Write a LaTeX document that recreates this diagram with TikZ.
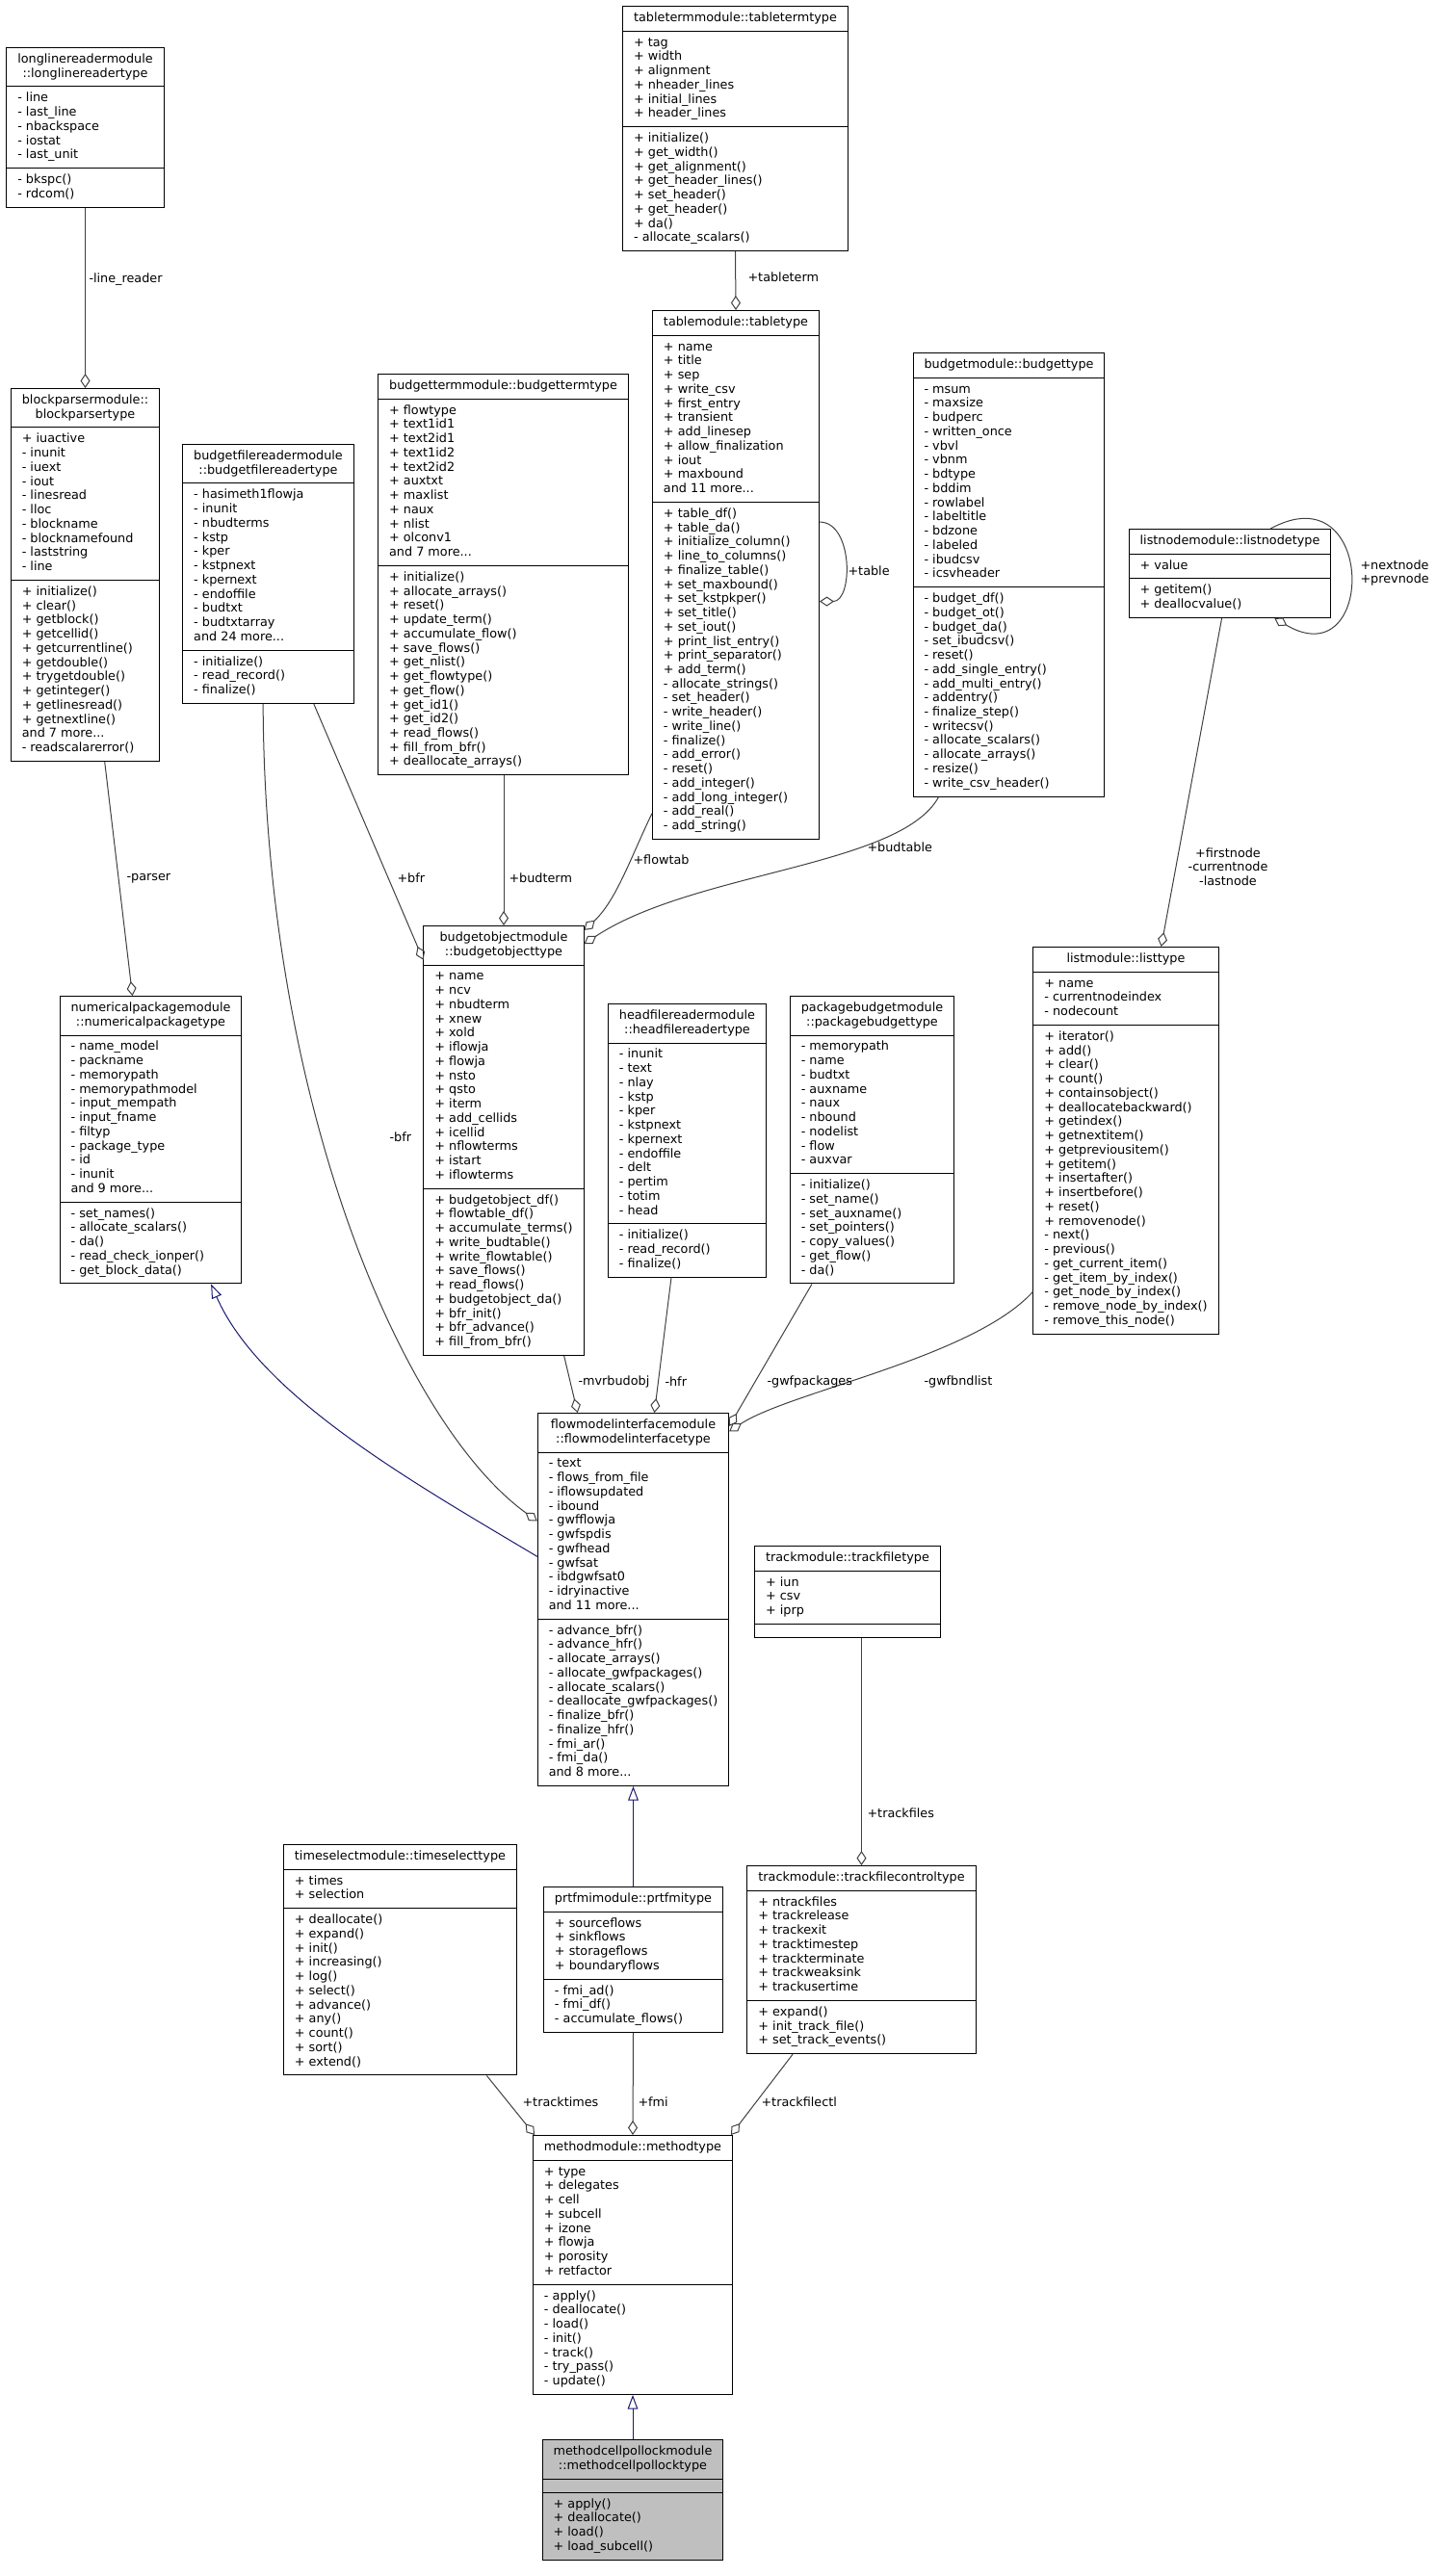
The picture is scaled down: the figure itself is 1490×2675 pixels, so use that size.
\documentclass[tikz,border=0pt]{standalone}
\usepackage{fontspec}
\setmainfont{DejaVu Sans}
\usetikzlibrary{shapes.multipart,arrows.meta,calc}
\definecolor{edgegray}{HTML}{404040}
\definecolor{inhblue}{HTML}{191970}
% class box: title / attributes / methods
\newcommand{\umlclass}[3]{%
  \begin{tabular}{@{}c@{}}#1\end{tabular}%
  \nodepart{two}\begin{tabular}{@{}l@{}}#2\end{tabular}%
  \nodepart{three}\begin{tabular}{@{}l@{}}#3\end{tabular}}

\begin{document}
\begin{tikzpicture}[x=0.75pt, y=-0.75pt, line width=0.75pt,
    every node/.style={font=\fontsize{9.6pt}{11.06pt}\selectfont},
    cls/.style={rectangle split, rectangle split parts=3,
      rectangle split part align={center,left,left},
      draw=black, fill=white, inner xsep=8.6pt, inner ysep=3.75pt, anchor=north},
    lbl/.style={inner sep=0pt, anchor=west},
    agg/.style={draw=edgegray, -{Diamond[open,length=11.25pt,width=7.5pt]}},
    inh/.style={draw=inhblue, -{Triangle[open,length=11pt,width=8pt]}}]
  \useasboundingbox (0,0) rectangle (1490,2675);

  % 1. 上部的类
  \node[cls] (ll) at (88.5,49) {\umlclass{longlinereadermodule\\::longlinereadertype}
    {- line\\- last\_line\\- nbackspace\\- iostat\\- last\_unit}
    {- bkspc()\\- rdcom()}};
  \node[cls] (bp) at (88.5,403) {\umlclass{blockparsermodule::\\blockparsertype}
    {+ iuactive\\- inunit\\- iuext\\- iout\\- linesread\\- lloc\\- blockname\\- blocknamefound\\- laststring\\- line}
    {+ initialize()\\+ clear()\\+ getblock()\\+ getcellid()\\+ getcurrentline()\\+ getdouble()\\+ trygetdouble()\\+ getinteger()\\+ getlinesread()\\+ getnextline()\\and 7 more...\\- readscalarerror()}};
  \node[cls] (bfr) at (278.5,461) {\umlclass{budgetfilereadermodule\\::budgetfilereadertype}
    {- hasimeth1flowja\\- inunit\\- nbudterms\\- kstp\\- kper\\- kstpnext\\- kpernext\\- endoffile\\- budtxt\\- budtxtarray\\and 24 more...}
    {- initialize()\\- read\_record()\\- finalize()}};
  \node[cls] (bt) at (522.5,388) {\umlclass{budgettermmodule::budgettermtype}
    {+ flowtype\\+ text1id1\\+ text2id1\\+ text1id2\\+ text2id2\\+ auxtxt\\+ maxlist\\+ naux\\+ nlist\\+ olconv1\\and 7 more...}
    {+ initialize()\\+ allocate\_arrays()\\+ reset()\\+ update\_term()\\+ accumulate\_flow()\\+ save\_flows()\\+ get\_nlist()\\+ get\_flowtype()\\+ get\_flow()\\+ get\_id1()\\+ get\_id2()\\+ read\_flows()\\+ fill\_from\_bfr()\\+ deallocate\_arrays()}};
  \node[cls] (tt) at (763.5,6) {\umlclass{tabletermmodule::tabletermtype}
    {+ tag\\+ width\\+ alignment\\+ nheader\_lines\\+ initial\_lines\\+ header\_lines}
    {+ initialize()\\+ get\_width()\\+ get\_alignment()\\+ get\_header\_lines()\\+ set\_header()\\+ get\_header()\\+ da()\\- allocate\_scalars()}};
  \node[cls] (tb) at (764,322) {\umlclass{tablemodule::tabletype}
    {+ name\\+ title\\+ sep\\+ write\_csv\\+ first\_entry\\+ transient\\+ add\_linesep\\+ allow\_finalization\\+ iout\\+ maxbound\\and 11 more...}
    {+ table\_df()\\+ table\_da()\\+ initialize\_column()\\+ line\_to\_columns()\\+ finalize\_table()\\+ set\_maxbound()\\+ set\_kstpkper()\\+ set\_title()\\+ set\_iout()\\+ print\_list\_entry()\\+ print\_separator()\\+ add\_term()\\- allocate\_strings()\\- set\_header()\\- write\_header()\\- write\_line()\\- finalize()\\- add\_error()\\- reset()\\- add\_integer()\\- add\_long\_integer()\\- add\_real()\\- add\_string()}};
  \node[cls] (bg) at (1047.5,366) {\umlclass{budgetmodule::budgettype}
    {- msum\\- maxsize\\- budperc\\- written\_once\\- vbvl\\- vbnm\\- bdtype\\- bddim\\- rowlabel\\- labeltitle\\- bdzone\\- labeled\\- ibudcsv\\- icsvheader}
    {- budget\_df()\\- budget\_ot()\\- budget\_da()\\- set\_ibudcsv()\\- reset()\\- add\_single\_entry()\\- add\_multi\_entry()\\- addentry()\\- finalize\_step()\\- writecsv()\\- allocate\_scalars()\\- allocate\_arrays()\\- resize()\\- write\_csv\_header()}};
  \node[cls] (ln) at (1277,549) {\umlclass{listnodemodule::listnodetype}
    {+ value}
    {+ getitem()\\+ deallocvalue()}};

  % 2. 中部的类
  \node[cls] (ls) at (1169,983) {\umlclass{listmodule::listtype}
    {+ name\\- currentnodeindex\\- nodecount}
    {+ iterator()\\+ add()\\+ clear()\\+ count()\\+ containsobject()\\+ deallocatebackward()\\+ getindex()\\+ getnextitem()\\+ getpreviousitem()\\+ getitem()\\+ insertafter()\\+ insertbefore()\\+ reset()\\+ removenode()\\- next()\\- previous()\\- get\_current\_item()\\- get\_item\_by\_index()\\- get\_node\_by\_index()\\- remove\_node\_by\_index()\\- remove\_this\_node()}};
  \node[cls] (np) at (156.5,1034) {\umlclass{numericalpackagemodule\\::numericalpackagetype}
    {- name\_model\\- packname\\- memorypath\\- memorypathmodel\\- input\_mempath\\- input\_fname\\- filtyp\\- package\_type\\- id\\- inunit\\and 9 more...}
    {- set\_names()\\- allocate\_scalars()\\- da()\\- read\_check\_ionper()\\- get\_block\_data()}};
  \node[cls] (bo) at (523,961) {\umlclass{budgetobjectmodule\\::budgetobjecttype}
    {+ name\\+ ncv\\+ nbudterm\\+ xnew\\+ xold\\+ iflowja\\+ flowja\\+ nsto\\+ qsto\\+ iterm\\+ add\_cellids\\+ icellid\\+ nflowterms\\+ istart\\+ iflowterms}
    {+ budgetobject\_df()\\+ flowtable\_df()\\+ accumulate\_terms()\\+ write\_budtable()\\+ write\_flowtable()\\+ save\_flows()\\+ read\_flows()\\+ budgetobject\_da()\\+ bfr\_init()\\+ bfr\_advance()\\+ fill\_from\_bfr()}};
  \node[cls] (hf) at (713.5,1042) {\umlclass{headfilereadermodule\\::headfilereadertype}
    {- inunit\\- text\\- nlay\\- kstp\\- kper\\- kstpnext\\- kpernext\\- endoffile\\- delt\\- pertim\\- totim\\- head}
    {- initialize()\\- read\_record()\\- finalize()}};
  \node[cls] (pb) at (905.5,1034) {\umlclass{packagebudgetmodule\\::packagebudgettype}
    {- memorypath\\- name\\- budtxt\\- auxname\\- naux\\- nbound\\- nodelist\\- flow\\- auxvar}
    {- initialize()\\- set\_name()\\- set\_auxname()\\- set\_pointers()\\- copy\_values()\\- get\_flow()\\- da()}};
  \node[cls] (fm) at (657.5,1467) {\umlclass{flowmodelinterfacemodule\\::flowmodelinterfacetype}
    {- text\\- flows\_from\_file\\- iflowsupdated\\- ibound\\- gwfflowja\\- gwfspdis\\- gwfhead\\- gwfsat\\- ibdgwfsat0\\- idryinactive\\and 11 more...}
    {- advance\_bfr()\\- advance\_hfr()\\- allocate\_arrays()\\- allocate\_gwfpackages()\\- allocate\_scalars()\\- deallocate\_gwfpackages()\\- finalize\_bfr()\\- finalize\_hfr()\\- fmi\_ar()\\- fmi\_da()\\and 8 more...}};
  \node[cls] (tf) at (880,1605) {\umlclass{trackmodule::trackfiletype}
    {+ iun\\+ csv\\+ iprp}
    {}};

  % 3. 下部的类
  \node[cls] (ts) at (415.5,1915) {\umlclass{timeselectmodule::timeselecttype}
    {+ times\\+ selection}
    {+ deallocate()\\+ expand()\\+ init()\\+ increasing()\\+ log()\\+ select()\\+ advance()\\+ any()\\+ count()\\+ sort()\\+ extend()}};
  \node[cls] (pf) at (657.5,1959) {\umlclass{prtfmimodule::prtfmitype}
    {+ sourceflows\\+ sinkflows\\+ storageflows\\+ boundaryflows}
    {- fmi\_ad()\\- fmi\_df()\\- accumulate\_flows()}};
  \node[cls] (tc) at (894.5,1937) {\umlclass{trackmodule::trackfilecontroltype}
    {+ ntrackfiles\\+ trackrelease\\+ trackexit\\+ tracktimestep\\+ trackterminate\\+ trackweaksink\\+ trackusertime}
    {+ expand()\\+ init\_track\_file()\\+ set\_track\_events()}};
  \node[cls] (mm) at (657,2217) {\umlclass{methodmodule::methodtype}
    {+ type\\+ delegates\\+ cell\\+ subcell\\+ izone\\+ flowja\\+ porosity\\+ retfactor}
    {- apply()\\- deallocate()\\- load()\\- init()\\- track()\\- try\_pass()\\- update()}};
  \node[cls, fill=black!25] (mp) at (657,2533) {\umlclass{methodcellpollockmodule\\::methodcellpollocktype}
    {}
    {+ apply()\\+ deallocate()\\+ load()\\+ load\_subcell()}};

  % 4. 聚合连线 (菱形在容器一端)
  \draw[agg] (ll.south) -- (bp.north);
  \draw[agg] ($(bp.south west)!0.63!(bp.south east)$) -- ($(np.north west)!0.40!(np.north east)$);
  \draw[agg] (tt.south) -- (tb.north);
  \coordinate (tbA) at ($(tb.north east)!0.40!(tb.south east)$);
  \coordinate (tbB) at ($(tb.north east)!0.55!(tb.south east)$);
  \draw[agg] (tbA) .. controls ($(tbA)+(35,0)$) and ($(tbB)+(35,0)$) .. (tbB);
  \draw[agg] ($(bfr.south west)!0.765!(bfr.south east)$) -- ($(bo.north west)!0.08!(bo.south west)$);
  \draw[agg] ($(bfr.south west)!0.47!(bfr.south east)$) .. controls (275,1150) and (420,1480) .. ($(fm.north west)!0.29!(fm.south west)$);
  \draw[agg] (bt.south -| bo.north) -- (bo.north);
  \draw[agg] ($(tb.north west)!0.95!(tb.south west)$) .. controls (655,890) and (640,935) .. ($(bo.north east)!0.011!(bo.south east)$);
  \draw[agg] ($(bg.south west)!0.135!(bg.south east)$) .. controls (935,900) and (720,905) .. ($(bo.north east)!0.043!(bo.south east)$);
  \coordinate (lnA) at ($(ln.north west)!0.70!(ln.north east)$);
  \coordinate (lnB) at ($(ln.south west)!0.72!(ln.south east)$);
  \draw[agg] (lnA) .. controls ($(lnA)+(110,-60)$) and ($(lnB)+(106,62)$) .. (lnB);
  \draw[agg] ($(ln.south west)!0.46!(ln.south east)$) -- ($(ls.north west)!0.69!(ls.north east)$);
  \draw[agg] ($(ls.north west)!0.89!(ls.south west)$) .. controls (1010,1410) and (820,1445) .. ($(fm.north east)!0.05!(fm.south east)$);
  \draw[agg] ($(pb.south west)!0.135!(pb.south east)$) -- ($(fm.north east)!0.036!(fm.south east)$);
  \draw[agg] ($(hf.south west)!0.40!(hf.south east)$) -- ($(fm.north west)!0.61!(fm.north east)$);
  \draw[agg] ($(bo.south west)!0.875!(bo.south east)$) -- ($(fm.north west)!0.21!(fm.north east)$);
  \draw[agg] (tf.south -| tc.north) -- (tc.north);
  \draw[agg] ($(ts.south west)!0.87!(ts.south east)$) -- ($(mm.north west)!0.01!(mm.north east)$);
  \draw[agg] (pf.south) -- (mm.north);
  \draw[agg] ($(tc.south west)!0.20!(tc.south east)$) -- ($(mm.north west)!0.99!(mm.north east)$);

  % 5. 继承连线
  \draw[inh] ($(fm.north west)!0.385!(fm.south west)$) .. controls (430,1540) and (270,1450) .. ($(np.south west)!0.83!(np.south east)$);
  \draw[inh] (pf.north) -- (fm.south);
  \draw[inh] (mp.north) -- (mm.south);

  % 6. 连线标签
  \node[lbl] (lLine) at (92,290) {-line\_reader};
  \node[lbl] (lParser) at (131,912) {-parser};
  \node[lbl] (lTableterm) at (776,288) {+tableterm};
  \node[lbl] (lTable) at (880,593) {+table};
  \node[lbl, align=left] (lNext) at (1412,595) {+nextnode\\+prevnode};
  \node[lbl] (lBfrA) at (412,912) {+bfr};
  \node[lbl] (lBudterm) at (528,912) {+budterm};
  \node[lbl] (lFlowtab) at (657,893) {+flowtab};
  \node[lbl] (lBudtable) at (900,880) {+budtable};
  \node[align=center, inner sep=0pt] (lFirst) at (1275,900) {+firstnode\\-currentnode\\-lastnode};
  \node[lbl] (lBfrB) at (404,1181) {-bfr};
  \node[lbl] (lMvr) at (600,1435) {-mvrbudobj};
  \node[lbl] (lHfr) at (690,1435) {-hfr};
  \node[lbl] (lGwfpk) at (796,1435) {-gwfpackages};
  \node[lbl] (lGwfbnd) at (959,1435) {-gwfbndlist};
  \node[lbl] (lTrackfiles) at (900,1883) {+trackfiles};
  \node[lbl] (lTracktimes) at (542,2183) {+tracktimes};
  \node[lbl] (lFmi) at (662,2183) {+fmi};
  \node[lbl] (lTrackctl) at (790,2183) {+trackfilectl};
\end{tikzpicture}
\end{document}
